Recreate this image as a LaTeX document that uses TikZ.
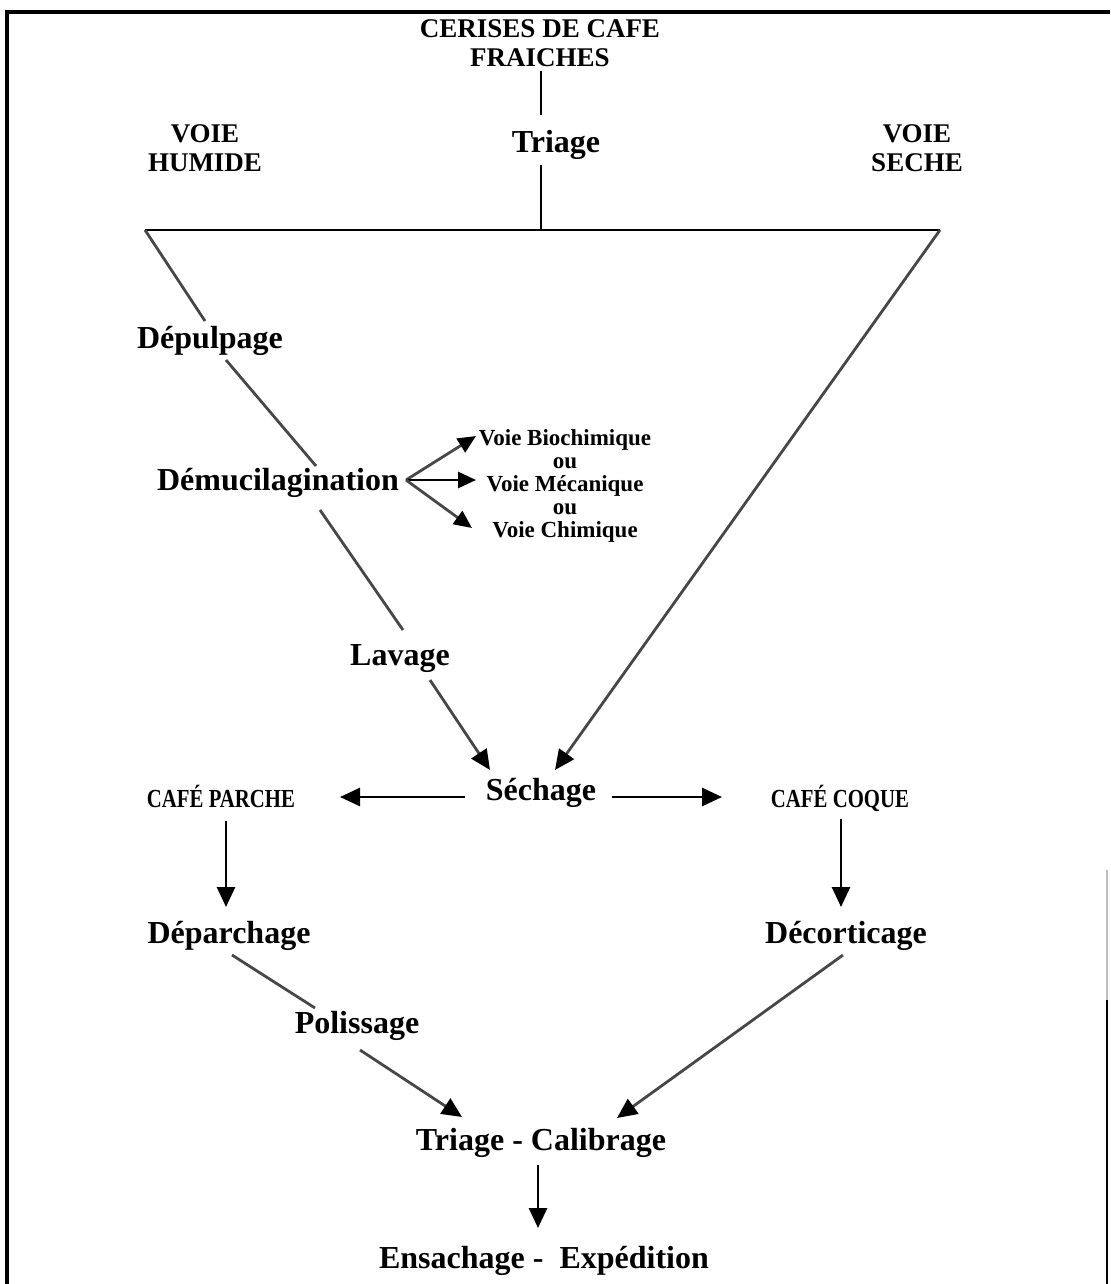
\documentclass[tikz,border=0pt]{standalone}
\usepackage{fontspec}
\setmainfont{Liberation Serif}
\newfontfamily\narrowserif[FakeStretch=0.8]{Liberation Serif}
\usetikzlibrary{arrows.meta,calc}
\begin{document}
\begin{tikzpicture}[x=0.5pt,y=-0.5pt,
  stage/.style={font=\bfseries\fontsize{16}{18}\selectfont, inner sep=0pt, anchor=base},
  heading/.style={font=\bfseries\fontsize{13.5}{14.5}\selectfont, inner sep=0pt, align=center, anchor=north},
  subhead/.style={font=\narrowserif\bfseries\fontsize{13}{15}\selectfont, inner sep=0pt, anchor=base},
  variant/.style={font=\bfseries\fontsize{11.5}{11.5}\selectfont, inner sep=0pt, align=center, anchor=north},
  rule/.style={line width=1.4pt, black},
  link/.style={line width=1.4pt, black!72},
  bigarrow/.style={-{Triangle[length=10pt,width=9pt,color=black]}},
  smallarrow/.style={-{Triangle[length=9pt,width=8pt,color=black]}},
]
\path[use as bounding box] (0,0) rectangle (1110,1284);

% page frame
\draw[line width=1.6pt] (7,1284) -- (7,12) -- (1110,12);
\draw[line width=1.2pt, black!25] (1107,870) -- (1107,1000);
\draw[line width=1.2pt] (1107,1000) -- (1107,1284);

% labels
\node[heading] (cerises) at (540,19) {CERISES DE CAFE\\FRAICHES};
\node[stage] (triage) at (556,153) {Triage};
\node[heading] (humide) at (205,124) {VOIE\\HUMIDE};
\node[heading] (seche) at (917,124) {VOIE\\SECHE};
\node[stage] (depulpage) at (210,348) {Dépulpage};
\node[stage] (demuc) at (278,490) {Démucilagination};
\node[variant] (voies) at (565,429) {Voie Biochimique\\ou\\Voie Mécanique\\ou\\Voie Chimique};
\node[stage] (lavage) at (400,665) {Lavage};
\node[stage] (sechage) at (541,800) {Séchage};
\node[subhead] (parche) at (221,807) {CAFÉ PARCHE};
\node[subhead] (coque) at (840,807) {CAFÉ COQUE};
\node[stage] (deparchage) at (229,943) {Déparchage};
\node[stage] (decort) at (846,943) {Décorticage};
\node[stage] (polissage) at (357,1033) {Polissage};
\node[stage] (tricalib) at (541,1150) {Triage - Calibrage};
\node[stage] (ensach) at (544,1268) {Ensachage -\ \ Expédition};

% sorting stem and the split bar
\coordinate (tl) at (145,230);
\coordinate (tr) at (940,230);
\coordinate (jn) at (541,230);
\draw[rule] ($(cerises.south)+(1,4)$) -- ($(triage.base)+(-15,-38)$);
\draw[rule] ($(triage.base)+(-15,12)$) -- (jn);
\draw[rule] (tl) -- (tr);

% wet process, broken by its stages
\draw[link] (tl) -- ($(depulpage.base)+(-5,-27)$);
\draw[link] ($(depulpage.base)+(16,12)$) -- ($(demuc.base)+(38,-24)$);
\draw[link] ($(demuc.base)+(42,20)$) -- ($(lavage.base)+(3,-35)$);
\draw[link, bigarrow] ($(lavage.base)+(30,15)$) -- ($(sechage.base)+(-51,-30)$);

% dry process
\draw[link, bigarrow] (tr) -- ($(sechage.base)+(14,-30)$);

% demucilage options
\coordinate (fork) at ($(demuc.base)+(128,-10)$);
\draw[link, smallarrow] (fork) -- ($(demuc.base)+(198,-54)$);
\draw[rule, smallarrow] (fork) -- ($(demuc.base)+(198,-10)$);
\draw[link, smallarrow] (fork) -- ($(demuc.base)+(194,38)$);

% drying outputs
\draw[rule, bigarrow] ($(sechage.base)+(-76,-3)$) -- ($(parche.base)+(119,-10)$);
\draw[rule, bigarrow] ($(sechage.base)+(71,-3)$) -- ($(coque.base)+(-118,-10)$);
\draw[rule, bigarrow] ($(parche.base)+(5,14)$) -- ($(deparchage.base)+(-3,-36)$);
\draw[rule, bigarrow] ($(coque.base)+(1,12)$) -- ($(decort.base)+(-5,-36)$);

% hulling and final steps
\draw[link] ($(deparchage.base)+(3,12)$) -- ($(polissage.base)+(-42,-25)$);
\draw[link, bigarrow] ($(polissage.base)+(3,17)$) -- ($(tricalib.base)+(-79,-33)$);
\draw[link, bigarrow] ($(decort.base)+(-3,12)$) -- ($(tricalib.base)+(76,-32)$);
\draw[rule, bigarrow] ($(tricalib.base)+(-3,15)$) -- ($(ensach.base)+(-6,-40)$);
\end{tikzpicture}
\end{document}
